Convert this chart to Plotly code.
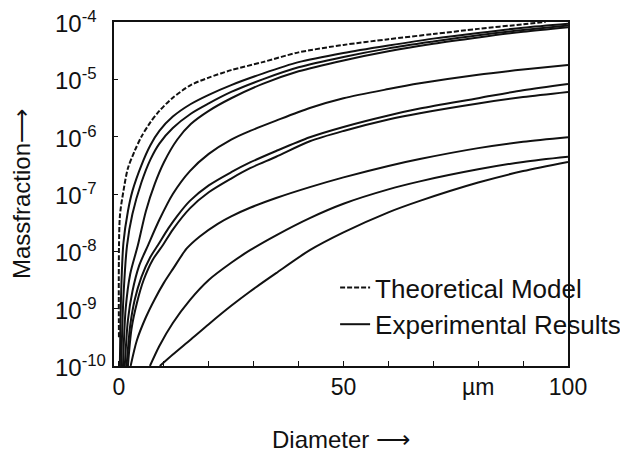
import plotly.graph_objects as go

# Diameter in µm, values as log10(massfraction)
theory_d   = [0, 0.2, 1, 2, 3.5, 5, 7, 9, 12, 16, 20, 25, 32, 40, 50, 60, 70, 80, 90, 95]
theory_log = [-9.5, -7.4, -6.95, -6.55, -6.25, -6.0, -5.75, -5.55, -5.32, -5.1, -4.97, -4.84,
              -4.70, -4.53, -4.40, -4.30, -4.21, -4.12, -4.04, -4.0]

exp1_d   = [0.2, 0.5, 1, 2, 3, 5, 7, 9, 12, 16, 20, 25, 32, 40, 50, 60, 70, 80, 90, 100]
exp1_log = [-10, -8.7, -7.85, -7.3, -6.95, -6.5, -6.15, -5.9, -5.65, -5.43, -5.27, -5.1, -4.9,
            -4.7, -4.54, -4.41, -4.29, -4.19, -4.1, -4.03]

exp2_d   = [0.5, 1, 1.8, 3, 5, 7, 9, 12, 16, 20, 25, 32, 40, 50, 60, 70, 80, 90, 100]
exp2_log = [-10, -8.8, -7.9, -7.35, -6.8, -6.4, -6.12, -5.85, -5.6, -5.42, -5.22, -5.0, -4.79,
            -4.61, -4.46, -4.34, -4.23, -4.14, -4.06]

exp3_d   = [0.9, 1.5, 2.5, 4.2, 6, 8, 10, 13, 16, 20, 25, 32, 40, 50, 60, 70, 80, 90, 100]
exp3_log = [-10, -9.0, -8.4, -7.9, -7.3, -6.82, -6.45, -6.05, -5.78, -5.55, -5.33, -5.08, -4.86,
            -4.67, -4.51, -4.38, -4.27, -4.17, -4.09]

exp4_d   = [1.3, 2, 3, 4.5, 6.5, 9, 12, 15.8, 20, 25, 29.2, 35, 42.5, 50, 60, 67, 80, 90, 100]
exp4_log = [-10, -9.2, -8.7, -8.25, -7.89, -7.45, -7.0, -6.6, -6.3, -6.05, -5.9, -5.72, -5.5,
            -5.33, -5.17, -5.07, -4.92, -4.83, -4.75]

exp5_d   = [1.7, 2.5, 3.5, 5, 7, 8.7, 11, 13, 15.8, 20, 25, 29.2, 35, 42.5, 50, 60, 67, 80, 90, 100]
exp5_log = [-10, -9.3, -8.85, -8.45, -8.1, -7.89, -7.6, -7.38, -7.12, -6.85, -6.62, -6.45, -6.25,
            -6.01, -5.83, -5.63, -5.51, -5.33, -5.19, -5.08]

exp6_d   = [2.0, 2.8, 4, 5.5, 7.5, 9.8, 12, 15.8, 20, 25, 29.2, 35, 42.5, 50, 60, 67, 80, 90, 100]
exp6_log = [-10, -9.35, -8.9, -8.5, -8.15, -7.89, -7.62, -7.25, -6.97, -6.73, -6.55, -6.35, -6.08,
            -5.9, -5.7, -5.59, -5.42, -5.31, -5.22]

exp7_d   = [2.6, 4, 6, 8, 10, 12, 15.1, 18, 22, 25, 29.2, 35, 42.5, 50, 60, 67, 80, 90, 100]
exp7_log = [-10, -9.55, -9.15, -8.83, -8.55, -8.31, -7.95, -7.74, -7.52, -7.39, -7.24, -7.07, -6.88,
            -6.71, -6.51, -6.39, -6.2, -6.09, -6.01]

exp8_d   = [6.9, 9, 12, 15.8, 20, 25, 29.2, 35, 42.5, 50, 60, 67, 80, 90, 100]
exp8_log = [-10, -9.65, -9.25, -8.85, -8.5, -8.2, -7.98, -7.72, -7.42, -7.17, -6.92, -6.78, -6.57,
            -6.44, -6.35]

exp9_d   = [9.1, 12, 15.8, 20, 25, 29.2, 35, 42.5, 50, 60, 67, 80, 90, 100]
exp9_log = [-10, -9.8, -9.55, -9.27, -8.95, -8.70, -8.38, -7.98, -7.67, -7.32, -7.12, -6.8, -6.6, -6.44]

experimental = [
    (exp1_d, exp1_log), (exp2_d, exp2_log), (exp3_d, exp3_log), (exp4_d, exp4_log),
    (exp5_d, exp5_log), (exp6_d, exp6_log), (exp7_d, exp7_log), (exp8_d, exp8_log),
    (exp9_d, exp9_log),
]

y_tick_exps = [-4, -5, -6, -7, -8, -9, -10]
x_tick_vals = [0, 50, 80, 100]
x_tick_text = ["0", "50", "µm", "100"]

INK = "#111111"
FONT = "Liberation Sans, Arial, Helvetica, sans-serif"

fig = go.Figure()

fig.add_trace(go.Scatter(
    x=theory_d, y=[10 ** v for v in theory_log], mode="lines",
    name="Theoretical Model",
    line=dict(color=INK, width=2, dash="5px,2px", shape="spline", smoothing=0.8),
))

for i, (d, lg) in enumerate(experimental):
    fig.add_trace(go.Scatter(
        x=d, y=[10 ** v for v in lg], mode="lines",
        name="Experimental Results", legendgroup="exp", showlegend=(i == 0),
        line=dict(color=INK, width=2, shape="spline", smoothing=0.8),
    ))

annotations = []
for e in y_tick_exps:
    annotations.append(dict(
        x=-0.134, xref="paper", y=e, yref="y", xanchor="left", yanchor="middle",
        text="10<sup>%d</sup>" % e, showarrow=False,
        font=dict(family=FONT, size=24, color=INK),
    ))

fig.update_layout(
    width=620, height=445,
    margin=dict(l=106, r=60, t=14, b=87, autoexpand=False),
    paper_bgcolor="white", plot_bgcolor="white",
    font=dict(family=FONT, color=INK),
    annotations=annotations,
    showlegend=True,
    legend=dict(
        x=0.487, y=0.2965, xanchor="left", yanchor="top",
        bgcolor="rgba(0,0,0,0)", font=dict(family=FONT, size=26, color=INK),
        tracegroupgap=0, itemwidth=30,
    ),
)

fig.update_xaxes(
    range=[-1.1, 100], showgrid=False, zeroline=False, automargin=False,
    showline=True, mirror=True, linecolor=INK, linewidth=1.5,
    tickmode="array", tickvals=x_tick_vals, ticktext=x_tick_text,
    ticks="inside", ticklen=5, tickcolor=INK,
    tickfont=dict(family=FONT, size=23, color=INK),
    minor=dict(tickmode="linear", tick0=0, dtick=10, ticks="inside", ticklen=5, tickcolor=INK, showgrid=False),
    title=dict(text="Diameter ⟶", font=dict(family=FONT, size=24, color=INK), standoff=35),
)

fig.update_yaxes(
    type="log", range=[-10, -4], showgrid=False, zeroline=False, automargin=False,
    showline=True, mirror=True, linecolor=INK, linewidth=1.5,
    tickmode="array", tickvals=[10 ** e for e in y_tick_exps],
    ticks="inside", ticklen=4, tickcolor=INK, showticklabels=False,
    title=dict(text="Massfraction⟶", font=dict(family=FONT, size=24, color=INK), standoff=75),
)

fig.write_html("out.html")
